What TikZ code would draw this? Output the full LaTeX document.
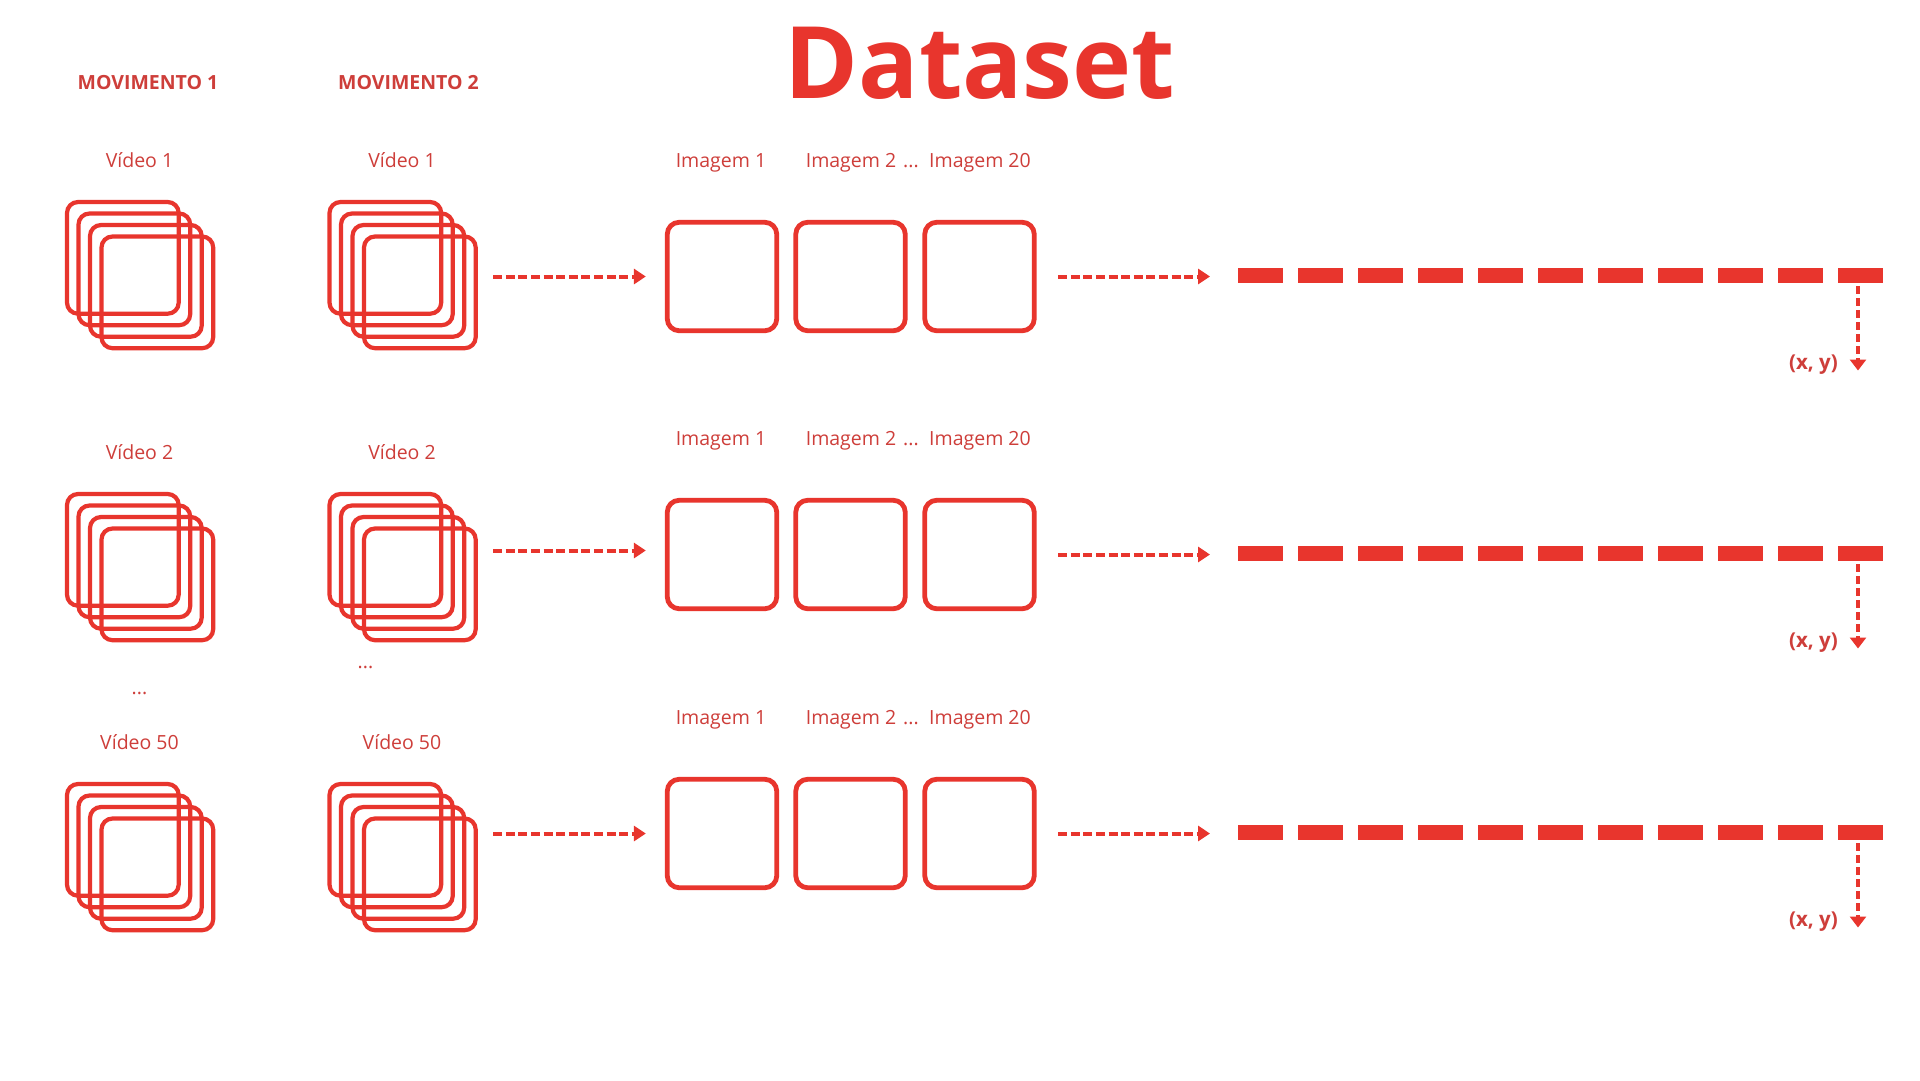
\documentclass[tikz,border=0pt]{standalone}
\usepackage{fontspec}
\setmainfont{Open Sans}
\usetikzlibrary{arrows.meta}
\definecolor{dred}{RGB}{232,53,45}
\definecolor{tred}{RGB}{206,62,58}
\begin{document}
\begin{tikzpicture}[x=1pt,y=-1pt,
  sq/.style={draw=dred, line width=4.2pt, rounded corners=11pt},
  stackbox/.style={minimum width=150.2pt, minimum height=150.2pt, inner sep=0pt, outer sep=0pt, anchor=north west},
  imgbox/.style={draw=dred, line width=4.8pt, rounded corners=12pt, minimum width=109.5pt, minimum height=108.5pt, inner sep=0pt},
  dashbar/.style={minimum width=645pt, minimum height=15pt, inner sep=0pt, outer sep=0pt},
  lbl/.style={text=tred, font=\fontsize{19.5}{23}\selectfont, inner sep=0pt, anchor=base},
  mov/.style={text=tred, font=\bfseries\fontsize{19.5}{23}\selectfont, inner sep=0pt, anchor=base},
  xylbl/.style={text=tred, font=\bfseries\fontsize{20.5}{24}\selectfont, inner sep=0pt, anchor=base east},
  ttl/.style={text=dred, font=\bfseries\fontsize{100}{110}\selectfont, inner sep=0pt, anchor=base},
  flow/.style={draw=dred, line width=4pt, dash pattern=on 9pt off 3.6pt, -{Triangle[length=12pt,width=15pt]}},
  vflow/.style={draw=dred, line width=4pt, dash pattern=on 8pt off 4pt, -{Triangle[length=11pt,width=16pt]}}
]
\useasboundingbox[fill=white] (0,0) rectangle (1920,1080);

% title and column headers
\node[ttl] (title) at (980,98) {Dataset};
\node[mov] (mov1) at (148,89) {MOVIMENTO 1};
\node[mov] (mov2) at (408.5,89) {MOVIMENTO 2};

% left part: video stacks (row shift 0, 292, 582)
\foreach \r/\ls/\vid in {1/0/1, 2/292/2, 3/582/50}{
  \node[lbl] (v1\r) at (139.5,{167+\ls}) {Vídeo \vid};
  \node[lbl] (v2\r) at (402,{167+\ls}) {Vídeo \vid};
  \node[stackbox] (s1\r) at (65,{200+\ls}) {};
  \node[stackbox] (s2\r) at (327.5,{200+\ls}) {};
  \foreach \k in {0,...,3}{
    \draw[sq] ([shift={({2+\k*11.5},{2+\k*11.5})}]s1\r.north west) rectangle ++(111.7,111.7);
    \draw[sq] ([shift={({2+\k*11.5},{2+\k*11.5})}]s2\r.north west) rectangle ++(111.7,111.7);
  }
}
\node[lbl] (dots1) at (139.5,694) {...};
\node[lbl] (dots2) at (365.5,668) {...};

% right part: images, points (row shift 0, 278, 557)
\foreach \r/\rs/\ay in {1/0/0, 2/278/-4, 3/557/0}{
  \node[lbl] (t1\r) at (721,{167+\rs}) {Imagem 1};
  \node[lbl] (t2\r) at (851,{167+\rs}) {Imagem 2};
  \node[lbl] (td\r) at (911,{167+\rs}) {...};
  \node[lbl] (t3\r) at (980,{167+\rs}) {Imagem 20};
  \node[imgbox] (i1\r) at (722,{276.5+\rs}) {};
  \node[imgbox] (i2\r) at (850.5,{276.5+\rs}) {};
  \node[imgbox] (i3\r) at (979.5,{276.5+\rs}) {};
  \node[dashbar] (d\r) at (1560,{275.5+\rs}) {};
  \foreach \k in {0,...,10}{
    \fill[dred] ([xshift=\k*60pt]d\r.north west) rectangle ++(45,15);
  }
  \coordinate (c\r) at (1858,{370.5+\rs});
  \node[xylbl] (xy\r) at (1838,{369+\rs}) {(x, y)};
  \draw[flow, shorten <=15.5pt, shorten >=19pt] ([yshift=-\ay pt]s2\r.east |- i1\r.west) -- ([yshift=-\ay pt]i1\r.west);
  \draw[flow, shorten <=21.5pt, shorten >=27.5pt] (i3\r.east) -- (d\r.west |- i3\r.east);
  \draw[vflow, shorten <=3pt] ([xshift=-24.5pt]d\r.south east) -- (c\r);
}
\end{tikzpicture}
\end{document}
